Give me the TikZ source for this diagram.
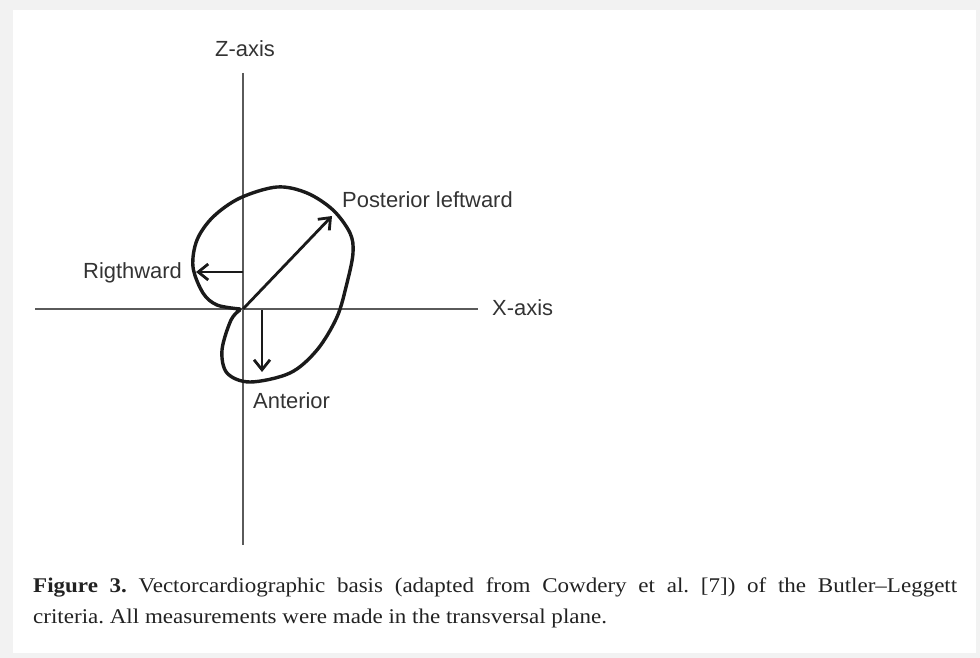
\documentclass[tikz,border=0pt]{standalone}
\usepackage{fontspec}
\setmainfont{Liberation Serif}
\newfontfamily\labelfont{Liberation Sans}
\newfontfamily\capfont[FakeStretch=1.1]{Liberation Serif}
\usetikzlibrary{arrows.meta}
\definecolor{framegray}{HTML}{F2F2F2}
\definecolor{axisgray}{HTML}{5A5A5A}
\definecolor{inkc}{HTML}{1A1A1A}
\definecolor{textc}{HTML}{333333}
\definecolor{captc}{HTML}{222222}
\frenchspacing
\begin{document}
\begin{tikzpicture}[x=1bp,y=-1bp,
  lbl/.style={font=\labelfont\fontsize{22}{26}\selectfont, text=textc, anchor=base west, inner sep=0pt},
  captxt/.style={font=\capfont\fontsize{21}{31}\selectfont, text=captc, anchor=base west, inner sep=0pt},
  axisline/.style={draw=axisgray, line width=1.3bp},
  vec/.style={draw=inkc, line width=2.8bp, -{Straight Barb[length=10bp,width=16bp]}},
  loopline/.style={draw=inkc, line width=3.4bp, line join=round, line cap=round},
]
\fill[framegray] (0,0) rectangle (980,658);
\fill[white] (13,10) rectangle (976,653);
\useasboundingbox (0,0) rectangle (980,658);

% axes
\coordinate (O) at (243,309);
\coordinate (zt) at (243,73);
\coordinate (zb) at (243,545);
\coordinate (xl) at (35,309);
\coordinate (xr) at (478,309);
\draw[axisline] (zt) -- (zb);
\draw[axisline] (xl) -- (xr);

% loop
\draw[loopline] plot[smooth, tension=0.55] coordinates {(240,309) (217,305) (203,293) (193,267) (197,240) (213,217) (240,198) (277,187) (307,193) (333,210) (350,233) (353,253) (347,283) (337,317) (317,350) (290,373) (250,382) (227,373) (222,350) (231,320) (240,310)};

% vectors
\coordinate (pl) at (332,216);
\coordinate (rws) at (243,272);
\coordinate (rw) at (196,272);
\coordinate (ans) at (262,310);
\coordinate (an) at (262,372);
\draw[vec] (O) -- (pl);
\draw[vec] (rws) -- (rw);
\draw[vec] (ans) -- (an);

% labels
\node[lbl] (zlab) at (215,57) {Z-axis};
\node[lbl] (xlab) at (492,315) {X-axis};
\node[lbl] (plab) at (342,207) {Posterior leftward};
\node[lbl] (rlab) at (83,278) {Rigthward};
\node[lbl] (alab) at (253,408) {Anterior};

% caption
\node[captxt] (cap1) at (33,592) {\hbox to 924bp{\textbf{Figure 3.} Vectorcardiographic basis (adapted from Cowdery et al. [7]) of the Butler–Leggett}};
\node[captxt] (cap2) at (33,623) {criteria. All measurements were made in the transversal plane.};
\end{tikzpicture}
\end{document}
